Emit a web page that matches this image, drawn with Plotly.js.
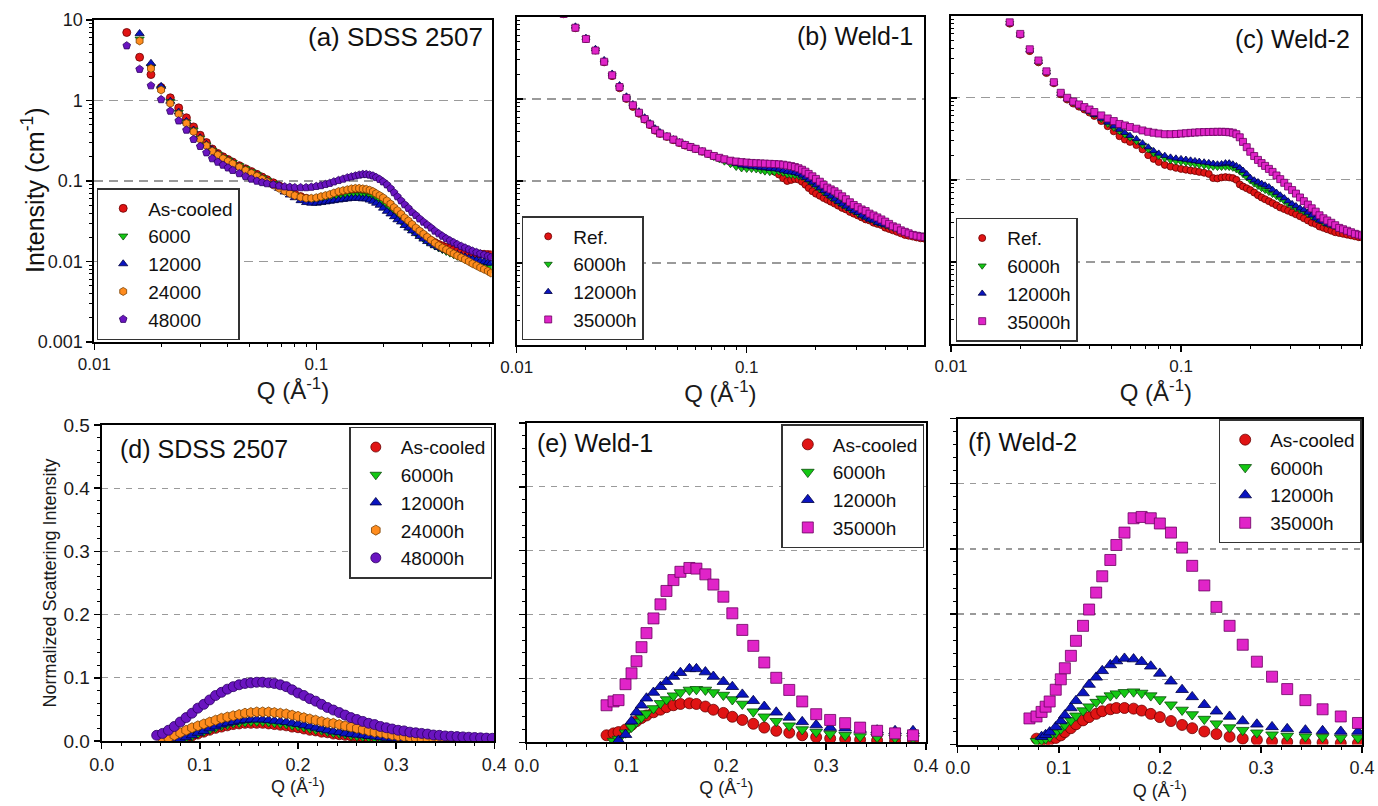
<!DOCTYPE html>
<html>
<head>
<meta charset="utf-8">
<script src="https://cdn.plot.ly/plotly-3.0.1.min.js"></script>
<style>html,body{margin:0;padding:0;background:#fff;}#chart{width:1378px;height:806px;}</style>
</head>
<body>
<div id="chart"></div>
<script>
// ---------- DATA ----------
// Top row (log-log), shared Q grid (Å^-1)
const qTop = [
0.014,0.016,0.018,0.020,0.022,0.024,0.026,0.028,0.030,0.032,
0.034,0.036,0.038,0.040,0.042,0.045,0.048,0.051,0.054,0.057,
0.060,0.064,0.068,0.072,0.076,0.080,0.085,0.090,0.095,0.100,
0.105,0.110,0.115,0.120,0.126,0.132,0.138,0.144,0.150,0.156,
0.162,0.168,0.174,0.180,0.186,0.193,0.200,0.208,0.216,0.224,
0.232,0.241,0.250,0.260,0.270,0.281,0.292,0.304,0.316,0.329,
0.342,0.356,0.370,0.385,0.400,0.416,0.432,0.450,0.468,0.487,
0.506,0.527,0.548,0.570,0.593,0.612];

// (a) SDSS 2507, intensity (cm^-1)
const aAsCooled = [
7.0,3.45,2.1,1.45,1.08,0.81,0.61,0.47,0.37,0.30,
0.25,0.22,0.20,0.185,0.172,0.155,0.142,0.131,0.121,0.112,
0.104,0.095,0.087,0.080,0.074,0.069,0.064,0.061,0.059,0.058,
0.059,0.060,0.062,0.064,0.066,0.068,0.070,0.071,0.072,0.072,
0.072,0.071,0.069,0.066,0.063,0.059,0.055,0.050,0.046,0.042,
0.038,0.035,0.032,0.029,0.027,0.025,0.023,0.021,0.0195,0.0182,
0.0172,0.0163,0.0156,0.015,0.0145,0.014,0.0136,0.0133,0.013,0.0128,
0.0126,0.0125,0.0124,0.0123,0.0122,0.0121];
const a6000 = [
null,5.8,2.6,1.4,0.97,0.71,0.54,0.43,0.34,0.28,
0.24,0.215,0.196,0.182,0.17,0.155,0.142,0.13,0.12,0.11,
0.102,0.093,0.084,0.077,0.071,0.066,0.061,0.058,0.056,0.055,
0.056,0.057,0.058,0.060,0.062,0.063,0.065,0.066,0.067,0.067,
0.067,0.066,0.064,0.061,0.058,0.054,0.050,0.046,0.042,0.038,
0.035,0.032,0.029,0.0265,0.0245,0.0225,0.0208,0.0192,0.0178,0.0166,
0.0156,0.0147,0.014,0.0133,0.0127,0.0121,0.0116,0.0111,0.0106,0.0102,
0.0098,0.0095,0.0092,0.009,0.0088,0.0086];
const a12000 = [
null,6.8,2.9,1.5,0.98,0.72,0.55,0.43,0.345,0.285,
0.245,0.215,0.195,0.18,0.168,0.152,0.139,0.127,0.117,0.108,
0.1,0.09,0.081,0.073,0.067,0.062,0.057,0.054,0.053,0.053,
0.054,0.055,0.056,0.057,0.058,0.059,0.060,0.061,0.061,0.061,
0.060,0.060,0.058,0.056,0.053,0.050,0.046,0.042,0.039,0.036,
0.033,0.031,0.028,0.026,0.024,0.0222,0.0205,0.019,0.0177,0.0166,
0.0157,0.0149,0.0143,0.0137,0.0132,0.0127,0.0122,0.0118,0.0114,0.011,
0.0107,0.0104,0.0101,0.0099,0.0097,0.0095];
const a24000 = [
null,5.5,2.5,1.35,0.92,0.68,0.52,0.41,0.33,0.275,
0.235,0.21,0.19,0.176,0.164,0.149,0.136,0.125,0.115,0.106,
0.098,0.089,0.081,0.075,0.07,0.066,0.063,0.061,0.061,0.062,
0.064,0.066,0.068,0.071,0.074,0.076,0.078,0.08,0.081,0.081,
0.08,0.079,0.077,0.074,0.07,0.066,0.062,0.057,0.052,0.047,
0.043,0.039,0.035,0.032,0.029,0.0262,0.024,0.022,0.0202,0.0185,
0.017,0.0158,0.0148,0.014,0.0132,0.0125,0.0118,0.0112,0.0106,0.01,
0.0094,0.0089,0.0084,0.008,0.0076,0.0072];
const a48000 = [
4.8,2.45,1.53,1.03,0.74,0.56,0.43,0.33,0.27,0.225,
0.19,0.172,0.158,0.146,0.136,0.124,0.114,0.106,0.1,0.096,
0.093,0.09,0.087,0.085,0.084,0.083,0.083,0.083,0.084,0.086,
0.088,0.091,0.094,0.098,0.102,0.106,0.11,0.113,0.116,0.119,
0.121,0.121,0.119,0.116,0.111,0.105,0.098,0.09,0.081,0.072,
0.064,0.057,0.051,0.046,0.041,0.0375,0.034,0.031,0.0285,0.0262,
0.024,0.0222,0.0207,0.0193,0.0182,0.0172,0.0163,0.0155,0.0148,0.0141,
0.0135,0.013,0.0125,0.0121,0.0117,0.0113];

// (b) Weld-1
const bRef = [
null,10.8,7.3,5.4,3.9,2.8,1.9,1.35,1.0,0.8,
0.66,0.56,0.48,0.41,0.375,0.345,0.315,0.29,0.27,0.258,
0.245,0.228,0.214,0.2,0.19,0.182,0.175,0.17,0.165,0.16,
0.157,0.154,0.15,0.145,0.14,0.13,0.12,0.108,0.1,0.103,
0.106,0.104,0.098,0.09,0.082,0.075,0.07,0.066,0.062,0.059,
0.056,0.053,0.05,0.047,0.045,0.042,0.04,0.038,0.036,0.034,
0.033,0.031,0.03,0.029,0.027,0.026,0.025,0.024,0.023,0.022,
0.0215,0.021,0.0205,0.02,0.0198,0.0196];
const b6000 = [
null,11.0,7.5,5.5,3.95,2.85,1.95,1.4,1.03,0.83,
0.68,0.57,0.49,0.42,0.38,0.35,0.32,0.295,0.275,0.26,
0.246,0.228,0.212,0.196,0.184,0.172,0.16,0.148,0.142,0.14,
0.14,0.138,0.134,0.13,0.128,0.128,0.13,0.125,0.12,0.118,
0.117,0.115,0.112,0.107,0.1,0.093,0.086,0.079,0.073,0.068,
0.063,0.059,0.055,0.051,0.048,0.045,0.043,0.04,0.038,0.036,
0.034,0.033,0.031,0.03,0.029,0.028,0.027,0.026,0.025,0.024,
0.023,0.0225,0.022,0.022,0.0218,0.0216];
const b12000 = [
null,11.3,7.7,5.6,4.1,3.0,2.05,1.48,1.08,0.87,
0.71,0.6,0.51,0.44,0.395,0.355,0.325,0.3,0.28,0.264,
0.25,0.232,0.216,0.2,0.19,0.18,0.17,0.162,0.156,0.152,
0.15,0.148,0.146,0.144,0.142,0.14,0.138,0.134,0.13,0.128,
0.126,0.122,0.117,0.11,0.103,0.096,0.089,0.082,0.076,0.07,
0.065,0.06,0.056,0.052,0.049,0.046,0.043,0.041,0.038,0.036,
0.034,0.033,0.031,0.03,0.029,0.028,0.027,0.026,0.025,0.024,
0.023,0.0222,0.0217,0.0213,0.021,0.0208];
const b35000 = [
null,10.9,7.4,5.4,3.9,2.85,1.95,1.4,1.03,0.84,
0.68,0.57,0.49,0.42,0.38,0.35,0.32,0.295,0.275,0.26,
0.247,0.23,0.215,0.202,0.192,0.184,0.177,0.173,0.17,0.168,
0.166,0.165,0.164,0.163,0.162,0.161,0.16,0.158,0.155,0.152,
0.148,0.143,0.137,0.13,0.122,0.114,0.106,0.098,0.09,0.083,
0.079,0.075,0.07,0.065,0.06,0.055,0.051,0.048,0.045,0.043,
0.04,0.038,0.036,0.034,0.032,0.03,0.028,0.027,0.025,0.024,
0.023,0.022,0.0215,0.021,0.0207,0.0205];

// (c) Weld-2
const cRef = [
null,11.5,8.0,5.85,3.7,2.7,2.0,1.5,1.1,0.95,
0.85,0.78,0.72,0.66,0.6,0.52,0.45,0.39,0.34,0.31,
0.29,0.265,0.235,0.2,0.18,0.165,0.152,0.145,0.14,0.136,
0.133,0.13,0.128,0.125,0.122,0.118,0.105,0.104,0.107,0.108,
0.107,0.105,0.1,0.088,0.083,0.079,0.075,0.07,0.065,0.061,
0.058,0.055,0.052,0.049,0.046,0.044,0.042,0.04,0.038,0.036,
0.034,0.032,0.03,0.029,0.027,0.026,0.025,0.024,0.023,0.0225,
0.022,0.0215,0.021,0.0205,0.02,0.0198];
const c6000 = [
null,11.7,8.1,5.9,3.8,2.75,2.05,1.52,1.12,0.97,
0.87,0.8,0.74,0.68,0.62,0.55,0.48,0.43,0.39,0.355,
0.325,0.295,0.265,0.235,0.21,0.195,0.182,0.173,0.168,0.165,
0.162,0.158,0.155,0.152,0.149,0.146,0.144,0.143,0.143,0.144,
0.143,0.14,0.134,0.126,0.117,0.107,0.098,0.09,0.084,0.079,
0.075,0.071,0.067,0.063,0.059,0.055,0.051,0.048,0.045,0.043,
0.041,0.038,0.036,0.034,0.032,0.03,0.029,0.028,0.027,0.026,
0.025,0.024,0.023,0.022,0.0213,0.0208];
const c12000 = [
null,11.7,8.1,5.9,3.8,2.75,2.05,1.52,1.12,0.97,
0.87,0.8,0.74,0.68,0.62,0.56,0.5,0.45,0.41,0.375,
0.345,0.315,0.28,0.25,0.225,0.21,0.197,0.188,0.183,0.18,
0.177,0.173,0.17,0.167,0.164,0.161,0.158,0.155,0.156,0.16,
0.16,0.155,0.148,0.14,0.13,0.118,0.106,0.099,0.094,0.09,
0.086,0.082,0.076,0.07,0.065,0.06,0.055,0.051,0.048,0.045,
0.043,0.04,0.037,0.034,0.032,0.031,0.029,0.028,0.027,0.026,
0.0245,0.0235,0.0227,0.022,0.0215,0.021];
const c35000 = [
null,12.0,8.3,6.0,3.9,2.85,2.1,1.55,1.15,1.0,
0.9,0.83,0.77,0.72,0.67,0.61,0.56,0.52,0.48,0.46,
0.44,0.42,0.4,0.385,0.375,0.367,0.36,0.36,0.362,0.366,
0.37,0.374,0.377,0.38,0.382,0.383,0.384,0.385,0.385,0.384,
0.38,0.375,0.36,0.33,0.29,0.25,0.22,0.195,0.175,0.16,
0.148,0.136,0.125,0.113,0.102,0.092,0.083,0.075,0.068,0.061,
0.055,0.05,0.045,0.041,0.037,0.034,0.032,0.03,0.028,0.026,
0.025,0.024,0.023,0.022,0.0215,0.021];

// Bottom row (linear), normalized scattering intensity
const qD = [
0.056,0.062,0.068,0.074,0.080,0.086,0.092,0.098,0.104,0.110,
0.116,0.122,0.128,0.134,0.140,0.146,0.152,0.158,0.164,0.170,
0.176,0.182,0.188,0.194,0.200,0.206,0.212,0.218,0.224,0.230,
0.236,0.242,0.248,0.254,0.260,0.266,0.272,0.278,0.284,0.290,
0.296,0.302,0.308,0.314,0.320,0.326,0.332,0.338,0.344,0.350,
0.356,0.362,0.368,0.374,0.380,0.386,0.392,0.398];
const dAsCooled = [
null,null,null,0.001,0.003,0.005,0.008,0.011,0.014,0.017,
0.02,0.022,0.024,0.026,0.027,0.028,0.028,0.028,0.028,0.027,
0.026,0.025,0.024,0.022,0.021,0.019,0.017,0.016,0.014,0.013,
0.011,0.01,0.009,0.008,0.007,0.006,0.005,0.004,0.0035,0.003,
0.0025,0.002,0.002,0.0015,0.0015,0.001,0.001,0.001,0.001,0.001,
0.001,0.001,0.001,0.001,0.001,0.001,0.001,0.001];
const d6000 = [
null,null,null,0.001,0.003,0.005,0.008,0.012,0.015,0.018,
0.021,0.024,0.026,0.028,0.029,0.03,0.031,0.031,0.031,0.03,
0.029,0.028,0.027,0.025,0.024,0.022,0.02,0.018,0.017,0.015,
0.013,0.012,0.011,0.009,0.008,0.007,0.006,0.005,0.0045,0.004,
0.0035,0.003,0.0025,0.002,0.002,0.0015,0.0015,0.001,0.001,0.001,
0.001,0.001,0.001,0.001,0.001,0.001,0.001,0.001];
const d12000 = [
null,null,null,0.001,0.003,0.006,0.009,0.013,0.016,0.02,
0.023,0.026,0.028,0.03,0.032,0.033,0.034,0.034,0.034,0.033,
0.032,0.031,0.03,0.028,0.027,0.025,0.023,0.021,0.019,0.017,
0.015,0.014,0.012,0.011,0.01,0.009,0.008,0.007,0.006,0.005,
0.0045,0.004,0.0035,0.003,0.0025,0.002,0.002,0.0015,0.0015,0.001,
0.001,0.001,0.001,0.001,0.001,0.001,0.001,0.001];
const d24000 = [
null,0.002,0.005,0.009,0.013,0.017,0.021,0.024,0.027,0.03,
0.033,0.036,0.038,0.04,0.042,0.044,0.045,0.046,0.046,0.046,
0.045,0.044,0.043,0.041,0.039,0.037,0.035,0.033,0.031,0.029,
0.028,0.026,0.024,0.022,0.02,0.018,0.016,0.014,0.013,0.011,
0.0095,0.008,0.007,0.006,0.005,0.004,0.0035,0.003,0.0025,0.002,
0.002,0.0015,0.0015,0.001,0.001,0.001,0.001,0.001];
const d48000 = [
0.009,0.012,0.017,0.023,0.03,0.037,0.044,0.052,0.058,0.065,
0.072,0.077,0.082,0.086,0.089,0.091,0.092,0.093,0.093,0.092,
0.091,0.089,0.086,0.081,0.076,0.072,0.067,0.063,0.058,0.053,
0.049,0.045,0.041,0.037,0.034,0.031,0.028,0.026,0.023,0.021,
0.019,0.017,0.016,0.014,0.013,0.012,0.011,0.0095,0.009,0.008,
0.0075,0.007,0.0065,0.006,0.0055,0.005,0.0046,0.0043];

const qE = [
0.080,0.087,0.092,0.099,0.105,0.110,0.115,0.120,0.127,0.134,
0.140,0.147,0.154,0.163,0.170,0.179,0.187,0.197,0.206,0.216,
0.227,0.238,0.250,0.263,0.276,0.290,0.304,0.319,0.334,0.351,
0.369,0.387];
const eAsCooled = [
0.011,0.014,0.016,0.02,0.027,0.033,0.038,0.042,0.047,0.051,
0.055,0.058,0.06,0.061,0.06,0.056,0.051,0.046,0.04,0.035,
0.029,0.023,0.018,0.015,0.011,0.008,0.006,0.005,0.004,0.003,
0.002,0.002];
const e6000 = [
null,0.002,0.005,0.015,0.024,0.032,0.039,0.045,0.053,0.061,
0.067,0.073,0.078,0.082,0.083,0.082,0.078,0.074,0.067,0.06,
0.048,0.04,0.033,0.026,0.02,0.016,0.013,0.011,0.009,0.008,
0.007,0.006];
const e12000 = [
null,null,0.003,0.012,0.033,0.047,0.058,0.069,0.078,0.087,
0.095,0.103,0.109,0.115,0.115,0.11,0.103,0.095,0.087,0.075,
0.065,0.056,0.047,0.039,0.032,0.027,0.023,0.022,0.02,0.019,
0.018,0.018];
const e35000 = [
0.058,0.064,0.066,0.091,0.108,0.127,0.149,0.171,0.194,0.216,
0.237,0.254,0.267,0.273,0.272,0.263,0.247,0.228,0.202,0.176,
0.151,0.125,0.101,0.082,0.064,0.044,0.035,0.03,0.023,0.018,
0.014,0.011];

const qF = [
0.071,0.078,0.083,0.087,0.091,0.097,0.102,0.106,0.112,0.117,
0.124,0.130,0.137,0.143,0.151,0.157,0.165,0.174,0.182,0.191,
0.200,0.211,0.222,0.232,0.244,0.256,0.269,0.282,0.296,0.311,
0.326,0.344,0.361,0.379,0.396];
const fAsCooled = [
null,0.009,0.007,0.006,0.007,0.01,0.014,0.019,0.025,0.031,
0.037,0.042,0.047,0.051,0.054,0.056,0.056,0.055,0.052,0.047,
0.042,0.036,0.03,0.025,0.02,0.016,0.012,0.009,0.007,0.005,
0.004,0.003,0.003,0.002,0.002];
const f6000 = [
null,0.005,0.007,0.009,0.012,0.018,0.024,0.03,0.037,0.044,
0.052,0.058,0.065,0.07,0.075,0.078,0.08,0.081,0.079,0.075,
0.069,0.061,0.053,0.046,0.039,0.032,0.026,0.022,0.018,0.015,
0.013,0.012,0.011,0.01,0.01];
const f12000 = [
null,null,0.012,0.015,0.019,0.027,0.036,0.045,0.056,0.067,
0.079,0.092,0.103,0.113,0.122,0.128,0.132,0.131,0.127,0.12,
0.109,0.097,0.084,0.073,0.061,0.051,0.043,0.036,0.031,0.027,
0.024,0.022,0.021,0.02,0.02];
const f35000 = [
0.04,0.043,0.05,0.058,0.066,0.084,0.1,0.117,0.136,0.159,
0.182,0.207,0.233,0.258,0.283,0.306,0.325,0.347,0.349,0.347,
0.339,0.325,0.302,0.274,0.244,0.211,0.182,0.153,0.127,0.104,
0.085,0.068,0.054,0.043,0.033];

// Labels
const labelsA = ['As-cooled','6000','12000','24000','48000'];
const labelsBC = ['Ref.','6000h','12000h','35000h'];
const labelsD = ['As-cooled','6000h','12000h','24000h','48000h'];
const labelsEF = ['As-cooled','6000h','12000h','35000h'];
const panelTitles = ['(a) SDSS 2507','(b) Weld-1','(c) Weld-2','(d) SDSS 2507','(e) Weld-1','(f) Weld-2'];

// ---------- STYLE ----------
const FONT = 'Liberation Sans, Arial, Helvetica, sans-serif';
const S = {
  red:    {color:'#e01414', edge:'#6a0000', symbol:'circle'},
  green:  {color:'#14c814', edge:'#0a4a0a', symbol:'triangle-down'},
  blue:   {color:'#0a14c0', edge:'#000040', symbol:'triangle-up'},
  orange: {color:'#ff8c1e', edge:'#7a4000', symbol:'hexagon'},
  purpleP:{color:'#6a14c0', edge:'#2a0060', symbol:'pentagon'},
  purpleC:{color:'#6a14c0', edge:'#2a0060', symbol:'circle'},
  magenta:{color:'#e024c8', edge:'#6a0060', symbol:'square'}
};
function tr(x, y, name, st, xa, ya, leg, size) {
  return {type:'scatter', mode:'markers', x:x, y:y, name:name, xaxis:xa, yaxis:ya, legend:leg,
    cliponaxis:true,
    marker:{symbol:st.symbol, color:st.color, size:size, line:{color:st.edge, width:0.8}}};
}

const traces = [
  tr(qTop,aAsCooled,labelsA[0],S.red,'x','y','legend',8),
  tr(qTop,a6000,labelsA[1],S.green,'x','y','legend',8),
  tr(qTop,a12000,labelsA[2],S.blue,'x','y','legend',8),
  tr(qTop,a24000,labelsA[3],S.orange,'x','y','legend',8),
  tr(qTop,a48000,labelsA[4],S.purpleP,'x','y','legend',8),

  tr(qTop,bRef,labelsBC[0],S.red,'x2','y2','legend2',7),
  tr(qTop,b6000,labelsBC[1],S.green,'x2','y2','legend2',7),
  tr(qTop,b12000,labelsBC[2],S.blue,'x2','y2','legend2',7),
  tr(qTop,b35000,labelsBC[3],S.magenta,'x2','y2','legend2',7),

  tr(qTop,cRef,labelsBC[0],S.red,'x3','y3','legend3',7),
  tr(qTop,c6000,labelsBC[1],S.green,'x3','y3','legend3',7),
  tr(qTop,c12000,labelsBC[2],S.blue,'x3','y3','legend3',7),
  tr(qTop,c35000,labelsBC[3],S.magenta,'x3','y3','legend3',7),

  tr(qD,dAsCooled,labelsD[0],S.red,'x4','y4','legend4',10),
  tr(qD,d6000,labelsD[1],S.green,'x4','y4','legend4',10),
  tr(qD,d12000,labelsD[2],S.blue,'x4','y4','legend4',10),
  tr(qD,d24000,labelsD[3],S.orange,'x4','y4','legend4',10),
  tr(qD,d48000,labelsD[4],S.purpleC,'x4','y4','legend4',10),

  tr(qE,eAsCooled,labelsEF[0],S.red,'x5','y5','legend5',11),
  tr(qE,e6000,labelsEF[1],S.green,'x5','y5','legend5',11),
  tr(qE,e12000,labelsEF[2],S.blue,'x5','y5','legend5',11),
  tr(qE,e35000,labelsEF[3],S.magenta,'x5','y5','legend5',11),

  tr(qF,fAsCooled,labelsEF[0],S.red,'x6','y6','legend6',11),
  tr(qF,f6000,labelsEF[1],S.green,'x6','y6','legend6',11),
  tr(qF,f12000,labelsEF[2],S.blue,'x6','y6','legend6',11),
  tr(qF,f35000,labelsEF[3],S.magenta,'x6','y6','legend6',11)
];

const W = 1378, H = 806;
const px = v => v / W;
const py = v => 1 - v / H;

function baseAxis(extra) {
  return Object.assign({
    showline:true, linecolor:'#000', linewidth:2, mirror:true,
    zeroline:false, showgrid:false, automargin:false,
    ticks:'outside', ticklen:6, tickwidth:1.5, tickcolor:'#000',
    tickfont:{family:FONT, size:16, color:'#1a1a1a'}
  }, extra);
}
function topX(domain, anchor, hi) {
  return baseAxis({type:'log', domain:domain, anchor:anchor, range:[-2, Math.log10(hi)],
    dtick:1, exponentformat:'none', tickfont:{family:FONT, size:17, color:'#1a1a1a'},
    minor:{ticks:'outside', ticklen:3, tickwidth:1, tickcolor:'#000', dtick:'D1', showgrid:false},
    title:{text:'Q (Å<sup>-1</sup>)', font:{family:FONT, size:24, color:'#1a1a1a'}, standoff:4}});
}
function topY(domain, anchor, labels) {
  return baseAxis({type:'log', domain:domain, anchor:anchor, range:[-3, 1], dtick:1,
    exponentformat:'none', showticklabels:labels, ticks: labels ? 'outside' : 'inside',
    tickfont:{family:FONT, size:18, color:'#1a1a1a'},
    showgrid:true, gridcolor:'#9a9a9a', gridwidth:1.2, griddash:'9px,6px',
    minor:{ticks: labels ? 'outside' : 'inside', ticklen:3, tickwidth:1, tickcolor:'#000', dtick:'D1', showgrid:false}});
}
function botX(domain, anchor) {
  return baseAxis({domain:domain, anchor:anchor, range:[0, 0.4], dtick:0.1, tickformat:'.1f',
    tickfont:{family:FONT, size:18, color:'#1a1a1a'},
    minor:{ticks:'outside', ticklen:3, tickwidth:1, tickcolor:'#000', dtick:0.02, showgrid:false},
    title:{text:'Q (Å<sup>-1</sup>)', font:{family:FONT, size:18, color:'#1a1a1a'}, standoff:4}});
}
function botY(domain, anchor, labels) {
  return baseAxis({domain:domain, anchor:anchor, range:[0, 0.5], dtick:0.1, tickformat:'.1f',
    showticklabels:labels, tickfont:{family:FONT, size:19, color:'#1a1a1a'},
    showgrid:true, gridcolor:'#9a9a9a', gridwidth:1.2, griddash:'6px,6px',
    minor:{ticks:'outside', ticklen:3, tickwidth:1, tickcolor:'#000', dtick:0.02, showgrid:false}});
}

const yA = topY([py(342), py(20)], 'x', true);
const yD = botY([py(741), py(425)], 'x4', true);
yD.title = {text:'Normalized Scattering Intensity', font:{family:FONT, size:18, color:'#1a1a1a'}, standoff:2};

function leg(x, y, xa, ya, size) {
  return {x:x, y:y, xanchor:xa, yanchor:ya, bgcolor:'#fff', bordercolor:'#333', borderwidth:1.5,
    font:{family:FONT, size:size, color:'#111'}, itemwidth:40, tracegroupgap:0};
}
function lab(text, x, y, xa, size) {
  return {text:text, xref:'paper', yref:'paper', x:x, y:y, xanchor:xa, yanchor:'middle',
    showarrow:false, font:{family:FONT, size:size, color:'#111'}};
}

const yTitleA = lab('Intensity (cm<sup>-1</sup>)', px(33), py(190), 'center', 25);
yTitleA.textangle = -90;

const layout = {
  width:W, height:H, autosize:false,
  margin:{l:0, r:0, t:0, b:0},
  paper_bgcolor:'#fff', plot_bgcolor:'#fff',
  font:{family:FONT, color:'#111'},
  xaxis: topX([px(94.3), px(491.7)], 'y', 0.617),
  yaxis: yA,
  xaxis2: topX([px(516.7), px(924)], 'y2', 0.59),
  yaxis2: topY([py(345), py(17)], 'x2', false),
  xaxis3: topX([px(951), px(1360.7)], 'y3', 0.604),
  yaxis3: topY([py(344), py(15.7)], 'x3', false),
  xaxis4: botX([px(101.7), px(494.3)], 'y4'),
  yaxis4: yD,
  xaxis5: botX([px(526.7), px(926)], 'y5'),
  yaxis5: botY([py(742.3), py(423)], 'x5', false),
  xaxis6: botX([px(957.7), px(1362)], 'y6'),
  yaxis6: botY([py(744.5), py(418.5)], 'x6', false),
  legend:  leg(px(96.7), py(340), 'left', 'bottom', 19),
  legend2: leg(px(521.7), py(340), 'left', 'bottom', 19),
  legend3: leg(px(955.7), py(341.7), 'left', 'bottom', 19),
  legend4: leg(px(492.3), py(426.7), 'right', 'top', 19),
  legend5: leg(px(924.3), py(424), 'right', 'top', 19),
  legend6: leg(px(1361.7), py(419.3), 'right', 'top', 19),
  annotations: [
    yTitleA,
    lab(panelTitles[0], px(485), py(37), 'right', 26),
    lab(panelTitles[1], px(915), py(36), 'right', 25),
    lab(panelTitles[2], px(1352), py(39), 'right', 25),
    lab(panelTitles[3], px(118), py(449), 'left', 25),
    lab(panelTitles[4], px(535), py(443), 'left', 25),
    lab(panelTitles[5], px(966), py(442), 'left', 25)
  ],
  showlegend:true
};

Plotly.newPlot('chart', traces, layout, {displayModeBar:false, staticPlot:true});
</script>
</body>
</html>
